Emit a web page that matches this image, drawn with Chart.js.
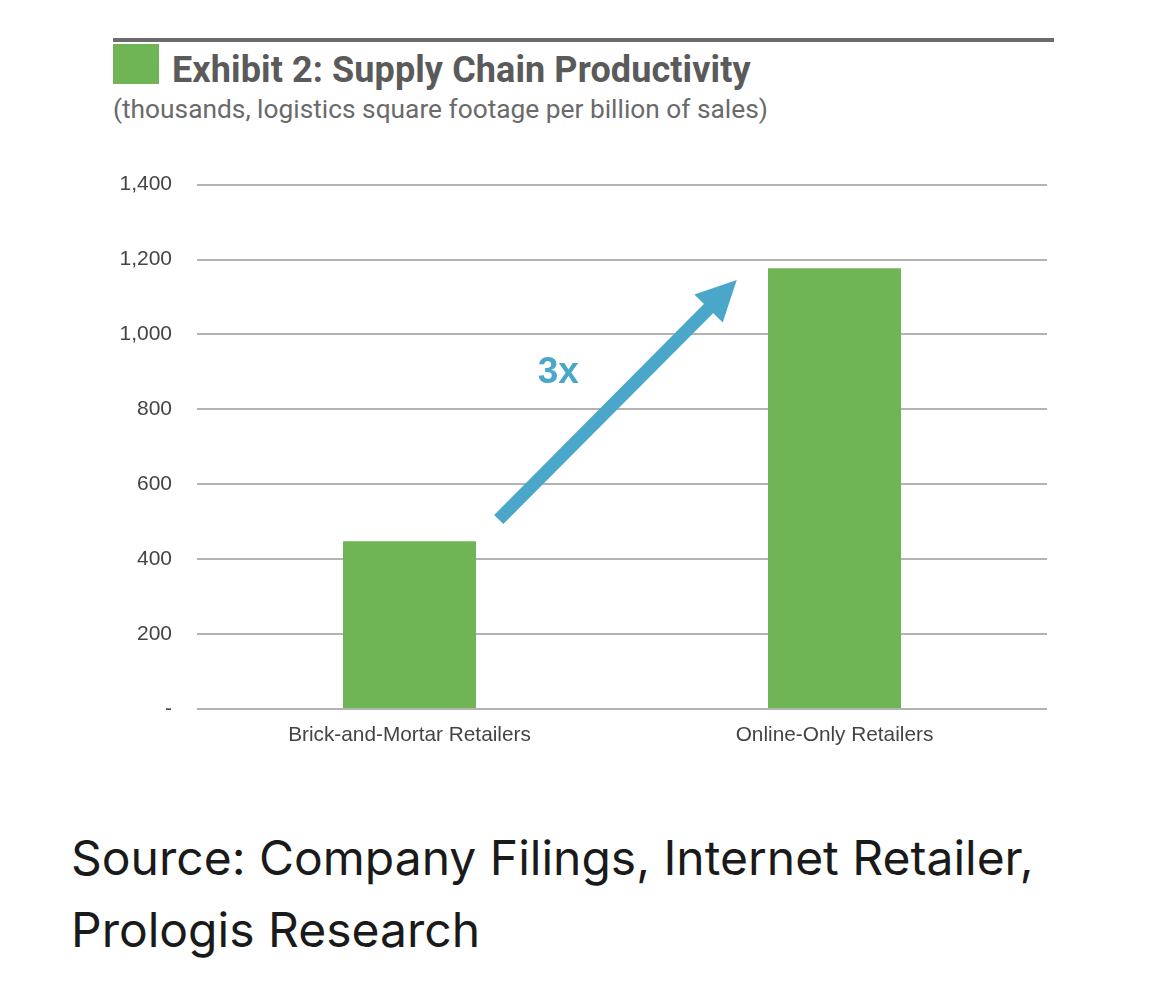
<!DOCTYPE html>
<html>
<head>
<meta charset="utf-8">
<script src="https://cdn.jsdelivr.net/npm/chart.js@4"></script>
<style>
  html, body { margin: 0; padding: 0; background: #fff; width: 1170px; height: 990px; overflow: hidden; }
  .rule { position: absolute; left: 113px; top: 38px; width: 941px; height: 4px; background: #6b6b6b; }
  .swatch { position: absolute; left: 113px; top: 44px; width: 46px; height: 40px; background: #6fb556; }
  .title { position: absolute; left: 172px; top: 48px; font-family: "Roboto", sans-serif; font-weight: bold; font-size: 36px; color: #5a5a5a; line-height: 44px; white-space: nowrap; letter-spacing: 0.1px; }
  .subtitle { position: absolute; left: 113px; top: 93px; font-family: "Roboto", sans-serif; font-size: 26.3px; color: #6a6a6a; line-height: 32px; white-space: nowrap; }
  .chartbox { position: absolute; left: 100px; top: 147px; width: 960px; height: 613px; }
  .source { position: absolute; left: 71px; top: 822px; font-family: "Inter", "Roboto", sans-serif; font-size: 48px; color: #1a1a1a; line-height: 72px; }
</style>
</head>
<body>
<div class="rule"></div>
<div class="swatch"></div>
<div class="title">Exhibit 2: Supply Chain Productivity</div>
<div class="subtitle">(thousands, logistics square footage per billion of sales)</div>
<div class="chartbox"><canvas id="chart"></canvas></div>
<div class="source">Source: Company Filings, Internet Retailer,<br>Prologis Research</div>
<script>
const categories = ['Brick-and-Mortar Retailers', 'Online-Only Retailers'];
const sqftPerBillion = [448, 1177];
const yTicks = [0, 200, 400, 600, 800, 1000, 1200, 1400];

// arrow annotation, in data units (category index, value)
const arrowFrom = [0.21, 506];
const arrowTo = [0.77, 1145];
const arrowLabel = '3x';
const arrowLabelAt = [0.35, 898];

const blue = '#4ba7ca';

const arrowPlugin = {
  id: 'arrow',
  afterDatasetsDraw(chart) {
    const { ctx, scales: { x, y } } = chart;
    const x0 = x.getPixelForValue(arrowFrom[0]), y0 = y.getPixelForValue(arrowFrom[1]);
    const x1 = x.getPixelForValue(arrowTo[0]), y1 = y.getPixelForValue(arrowTo[1]);
    const ang = Math.atan2(y1 - y0, x1 - x0);
    const headLen = 40, headHalf = 20;
    const bx = x1 - headLen * Math.cos(ang), by = y1 - headLen * Math.sin(ang);
    ctx.save();
    ctx.strokeStyle = blue;
    ctx.lineWidth = 13;
    ctx.lineCap = 'butt';
    ctx.beginPath();
    ctx.moveTo(x0, y0);
    ctx.lineTo(bx + 2 * Math.cos(ang), by + 2 * Math.sin(ang));
    ctx.stroke();
    ctx.fillStyle = blue;
    ctx.beginPath();
    ctx.moveTo(x1, y1);
    ctx.lineTo(bx + headHalf * Math.sin(ang), by - headHalf * Math.cos(ang));
    ctx.lineTo(bx - headHalf * Math.sin(ang), by + headHalf * Math.cos(ang));
    ctx.closePath();
    ctx.fill();
    ctx.font = 'bold 37px "Liberation Sans", Arial, sans-serif';
    ctx.textAlign = 'center';
    ctx.textBaseline = 'middle';
    ctx.fillText(arrowLabel, x.getPixelForValue(arrowLabelAt[0]), y.getPixelForValue(arrowLabelAt[1]));
    ctx.restore();
  }
};

new Chart(document.getElementById('chart'), {
  type: 'bar',
  data: {
    labels: categories,
    datasets: [{
      data: sqftPerBillion,
      backgroundColor: '#6fb556',
      borderWidth: 0,
      categoryPercentage: 1,
      barPercentage: 0.313
    }]
  },
  options: {
    responsive: true,
    maintainAspectRatio: false,
    animation: false,
    layout: { padding: { top: 13, right: 13, left: 0, bottom: 0 } },
    plugins: { legend: { display: false }, tooltip: { enabled: false } },
    scales: {
      x: {
        grid: { display: false },
        border: { display: false },
        ticks: { color: '#444', font: { family: '"Liberation Sans", Arial, sans-serif', size: 20.8 }, padding: 6 },
        afterFit(s) { s.height = 51; }
      },
      y: {
        min: 0,
        max: 1400,
        afterBuildTicks(s) { s.ticks = yTicks.map(v => ({ value: v })); },
        grid: { color: '#b3b3b3', lineWidth: 2, drawTicks: false },
        border: { display: false },
        ticks: {
          color: '#444',
          padding: 25,
          font: { family: '"Liberation Sans", Arial, sans-serif', size: 21 },
          callback: v => v === 0 ? '-' : v.toLocaleString('en-US')
        },
        afterFit(s) { s.width = 97; }
      }
    }
  },
  plugins: [arrowPlugin]
});
</script>
</body>
</html>
